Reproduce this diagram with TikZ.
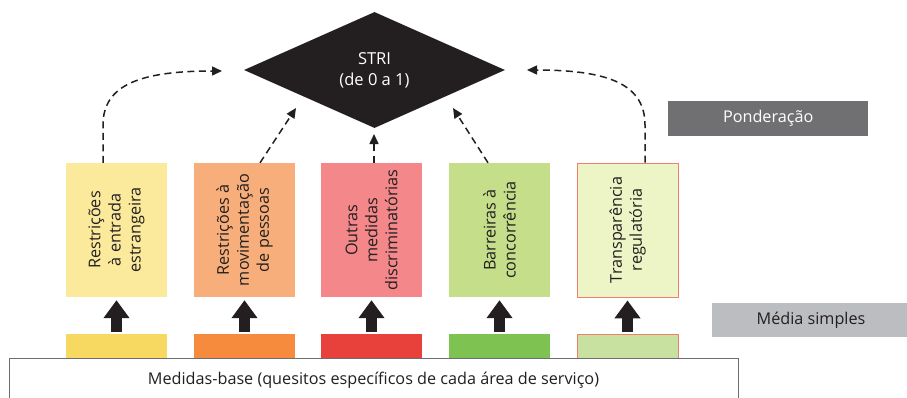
\documentclass[tikz,border=0pt]{standalone}
\usepackage{fontspec}
\setmainfont{Open Sans}
\usetikzlibrary{shapes.geometric,arrows.meta}
\definecolor{ink}{HTML}{231F20}
\definecolor{boxA}{HTML}{FCEA9C}\definecolor{barA}{HTML}{F7D860}
\definecolor{boxB}{HTML}{F8AE7A}\definecolor{barB}{HTML}{F68B3D}
\definecolor{boxC}{HTML}{F48789}\definecolor{barC}{HTML}{E8413C}
\definecolor{boxD}{HTML}{C5DE8A}\definecolor{barD}{HTML}{7EC352}
\definecolor{boxE}{HTML}{EDF4C5}\definecolor{barE}{HTML}{C8E0A0}
\definecolor{redline}{HTML}{F07E6E}
\definecolor{ponder}{HTML}{707073}
\definecolor{media}{HTML}{BCBDC0}
\definecolor{frame}{HTML}{6D6E71}
\tikzset{
  catbox/.style={minimum width=101pt,minimum height=134pt,inner sep=0pt,draw=none},
  bar/.style={minimum width=101pt,minimum height=26pt,inner sep=0pt,anchor=north},
  cattext/.style={rotate=90,align=center,text=ink,font=\fontsize{16.2}{20}\selectfont},
  dasharrow/.style={draw=ink,line width=1.5pt,dash pattern=on 7pt off 4.5pt,
    -{Triangle[length=10pt,width=9pt,sep=0pt]}},
  thickarrow/.style={draw=ink,line width=11pt,-{Triangle[length=18pt,width=25pt]},
    shorten >=3pt,shorten <=2pt},
  labelbox/.style={inner sep=0pt,anchor=north west},
  labeltext/.style={font=\fontsize{16.2}{20}\selectfont}
}
\begin{document}
\begin{tikzpicture}[x=1pt,y=-1pt]
\useasboundingbox (0,0) rectangle (907,397);
% bottom bars
\node[bar,fill=barA] (bA) at (116.5,334) {};
\node[bar,fill=barB] (bB) at (244.5,334) {};
\node[bar,fill=barC] (bC) at (371.5,334) {};
\node[bar,fill=barD] (bD) at (499.5,334) {};
\node[bar,fill=barE,draw=redline,line width=0.8pt] (bE) at (627.5,334) {};
% base box
\node[draw=frame,line width=1.3pt,fill=white,minimum width=729pt,minimum height=50pt,
  inner sep=0pt,anchor=north west] (base) at (9,358) {};
\node[labeltext,text=ink] (basetext) at (373.5,380)
  {Medidas-base (quesitos específicos de cada área de serviço)};
% category boxes
\node[catbox,fill=boxA] (cA) at (116.5,230) {};
\node[catbox,fill=boxB] (cB) at (244.5,230) {};
\node[catbox,fill=boxC] (cC) at (371.5,230) {};
\node[catbox,fill=boxD] (cD) at (499.5,230) {};
\node[catbox,fill=boxE,draw=redline,line width=0.8pt] (cE) at (627.5,230) {};
\node[cattext] (tA) at (cA) {Restrições\\à entrada\\estrangeira};
\node[cattext] (tB) at (cB) {Restrições à\\movimentação\\de pessoas};
\node[cattext] (tC) at (cC) {Outras\\medidas\\discriminatórias};
\node[cattext] (tD) at (cD) {Barreiras à\\concorrência};
\node[cattext] (tE) at (cE) {Transparência\\regulatória};
% thick arrows
\foreach \b/\c in {bA/cA,bB/cB,bC/cC,bD/cD,bE/cE}
  \draw[thickarrow] (\b.north) -- (\c.south);
% STRI diamond
\node[diamond,fill=ink,minimum width=261pt,minimum height=116pt,inner sep=0pt,
  text=white,align=center,font=\fontsize{16.5}{21}\selectfont] (stri) at (374.5,70)
  {STRI\\(de 0 a 1)};
% arrow tips
\coordinate (pA) at (222,71);
\coordinate (pB) at (296,108);
\coordinate (pC) at (374,134);
\coordinate (pD) at (453,108);
\coordinate (pE) at (527,70);
\draw[dasharrow] (cA.north -| 103,0) -- (103,125) .. controls (103,85) and (140,71) .. (pA);
\draw[dasharrow] (cB.north -| 260,0) -- (pB);
\draw[dasharrow] (cC.north -| 374,0) -- (pC);
\draw[dasharrow] (cD.north -| 488,0) -- (pD);
\draw[dasharrow] (cE.north -| 645,0) -- (645,125) .. controls (645,85) and (610,70) .. (pE);
% legend boxes
\node[labelbox,fill=ponder,minimum width=200pt,minimum height=35pt] (pond) at (668,101) {};
\node[labeltext,text=white] (pondtext) at (pond.center) {Ponderação};
\node[labelbox,fill=media,minimum width=200pt,minimum height=34pt] (med) at (712,303) {};
\node[labeltext,text=ink] (medtext) at (811,320) {Média simples};
\end{tikzpicture}
\end{document}
